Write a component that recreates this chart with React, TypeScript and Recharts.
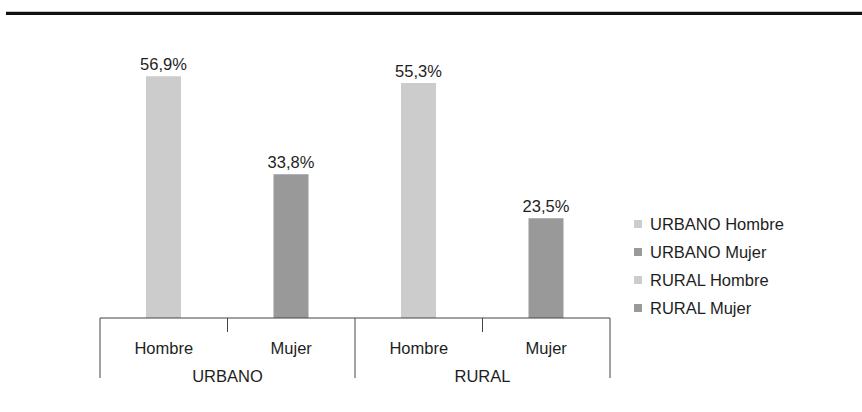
import React from "react";
import { Bar, BarChart, LabelList, Legend, XAxis, YAxis } from "recharts";

const categorias = ["Hombre", "Mujer", "Hombre", "Mujer"];
const zonas = ["URBANO", "URBANO", "RURAL", "RURAL"];
const series = ["URBANO Hombre", "URBANO Mujer", "RURAL Hombre", "RURAL Mujer"];
const valores = [56.9, 33.8, 55.3, 23.5];
const colores = ["#cccccc", "#999999", "#cccccc", "#999999"];

const data = categorias.map((sexo, i) => {
  const row: Record<string, any> = { sexo, zona: zonas[i] };
  row[series[i]] = valores[i];
  return row;
});

const W = 862;
const H = 412;
const margin = { top: 63, right: 252, bottom: 24, left: 100 };
const half = (W - margin.left - margin.right) / categorias.length / 2;
const font = "'Liberation Sans', Arial, sans-serif";
const fontSize = 16.5;
const textColor = "#1e1e1e";
const lineColor = "#444444";

function SexoTick(props: any) {
  const { x, y, payload } = props;
  const i = props.index ?? payload.index;
  const n = categorias.length;
  const newGroup = i === 0 || zonas[i] !== zonas[i - 1];
  const lastOfGroup = i === n - 1 || zonas[i] !== zonas[i + 1];
  let start = i;
  while (start > 0 && zonas[start - 1] === zonas[i]) start--;
  const groupCenter = x - (i - start) * half;
  return (
    <g>
      <line
        x1={x - half}
        x2={x - half}
        y1={y}
        y2={y + (newGroup ? 60 : 14)}
        stroke={lineColor}
      />
      {i === n - 1 && (
        <line x1={x + half} x2={x + half} y1={y} y2={y + 60} stroke={lineColor} />
      )}
      <text
        x={x}
        y={y + 36}
        textAnchor="middle"
        fontSize={fontSize}
        fontFamily={font}
        fill={textColor}
      >
        {payload.value}
      </text>
      {lastOfGroup && (
        <text
          x={groupCenter}
          y={y + 64}
          textAnchor="middle"
          fontSize={fontSize}
          fontFamily={font}
          fill={textColor}
        >
          {zonas[i]}
        </text>
      )}
    </g>
  );
}

function Leyenda(props: any) {
  const items = [...(props.payload || [])].sort(
    (a: any, b: any) => series.indexOf(a.value) - series.indexOf(b.value)
  );
  return (
    <div>
      {items.map((it: any) => (
        <div
          key={it.value}
          style={{ height: 28, display: "flex", alignItems: "center" }}
        >
          <span
            style={{
              width: 8,
              height: 8,
              background: it.color,
              display: "inline-block",
              marginRight: 8,
            }}
          />
          <span style={{ fontSize: fontSize, fontFamily: font, color: textColor }}>
            {it.value}
          </span>
        </div>
      ))}
    </div>
  );
}

const fmt = (v: any) => (v == null ? "" : String(v).replace(".", ",") + "%");

export default function App() {
  return (
    <div style={{ position: "absolute", left: 0, top: 0, width: W, height: H }}>
      <div
        style={{
          position: "absolute",
          left: 6,
          top: 11,
          width: W - 6,
          height: 1,
          background: "#c8c8c8",
        }}
      />
      <div
        style={{
          position: "absolute",
          left: 6,
          top: 12,
          width: W - 6,
          height: 3,
          background: "#111111",
        }}
      />
      <BarChart width={W} height={H} data={data} margin={margin}>
        <XAxis
          dataKey="sexo"
          interval={0}
          height={70}
          tickSize={0}
          tickMargin={0}
          tickLine={false}
          axisLine={{ stroke: lineColor }}
          tick={<SexoTick />}
        />
        <YAxis hide domain={[0, 60]} />
        <Legend
          layout="vertical"
          align="center"
          verticalAlign="middle"
          wrapperStyle={{ left: 634, top: 210, width: 200 }}
          content={<Leyenda />}
        />
        {series.map((s, i) => (
          <Bar
            key={s}
            dataKey={s}
            name={s}
            stackId="a"
            fill={colores[i]}
            barSize={35}
            isAnimationActive={false}
          >
            <LabelList
              dataKey={s}
              position="top"
              offset={6}
              formatter={fmt}
              style={{ fontSize: fontSize, fontFamily: font, fill: textColor }}
            />
          </Bar>
        ))}
      </BarChart>
    </div>
  );
}
